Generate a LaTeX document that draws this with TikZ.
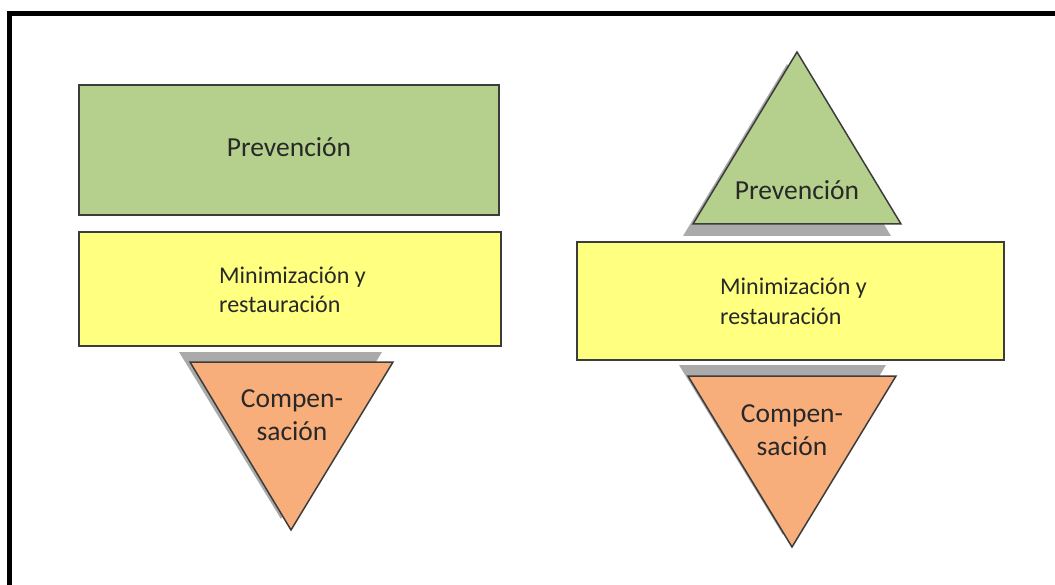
\documentclass[tikz,border=0pt]{standalone}
\usepackage{fontspec}
\setmainfont{Carlito}
\definecolor{gfill}{RGB}{181,208,140}
\definecolor{yfill}{RGB}{255,255,128}
\definecolor{ofill}{RGB}{247,174,122}
\definecolor{edge}{RGB}{60,60,60}
\definecolor{shade}{RGB}{170,170,170}
\definecolor{txt}{RGB}{40,40,40}
\tikzset{
  box/.style={draw=edge, line width=1.5pt},
  shadowfill/.style={fill=shade},
  lbl/.style={text=txt, inner sep=0pt, anchor=base},
  big/.style={font=\fontsize{27.5}{33}\selectfont},
  mid/.style={font=\fontsize{24}{29}\selectfont},
}
\begin{document}
\begin{tikzpicture}[x=1pt,y=-1pt]
\useasboundingbox (0,0) rectangle (1055,585);
% frame
\draw[line width=5pt] (1055,13.5) -- (9.75,13.5) -- (9.75,585);
% ---------- left diagram ----------
\draw[box, fill=gfill] (79,85) rectangle (499,215);
\draw[box, fill=yfill] (79,232) rectangle (501,346);
\fill[shadowfill] (179,352) -- (382,352) -- (281,519) -- cycle;
\draw[box, fill=ofill] (190,362) -- (393,362) -- (291,530) -- cycle;
\node[lbl, big] (lprev) at (289,157) {Prevención};
\node[lbl, mid, anchor=base west, align=left] (lmin) at (219,313) {Minimización y\\restauración};
\node[lbl, big, align=center] (lcomp) at (292,440) {Compen-\\sación};
% ---------- right diagram ----------
\fill[shadowfill] (787,64) -- (683,236) -- (891,236) -- cycle;
\draw[box, fill=gfill] (797,52) -- (693,224) -- (901,224) -- cycle;
\draw[box, fill=yfill] (577,242) rectangle (1004,360);
\fill[shadowfill] (679,365) -- (886,365) -- (783,535) -- cycle;
\draw[box, fill=ofill] (688,376) -- (896,376) -- (792,547) -- cycle;
\node[lbl, big] (rprev) at (797,200) {Prevención};
\node[lbl, mid, anchor=base west, align=left] (rmin) at (720,324) {Minimización y\\restauración};
\node[lbl, big, align=center] (rcomp) at (792,455) {Compen-\\sación};
\end{tikzpicture}
\end{document}
